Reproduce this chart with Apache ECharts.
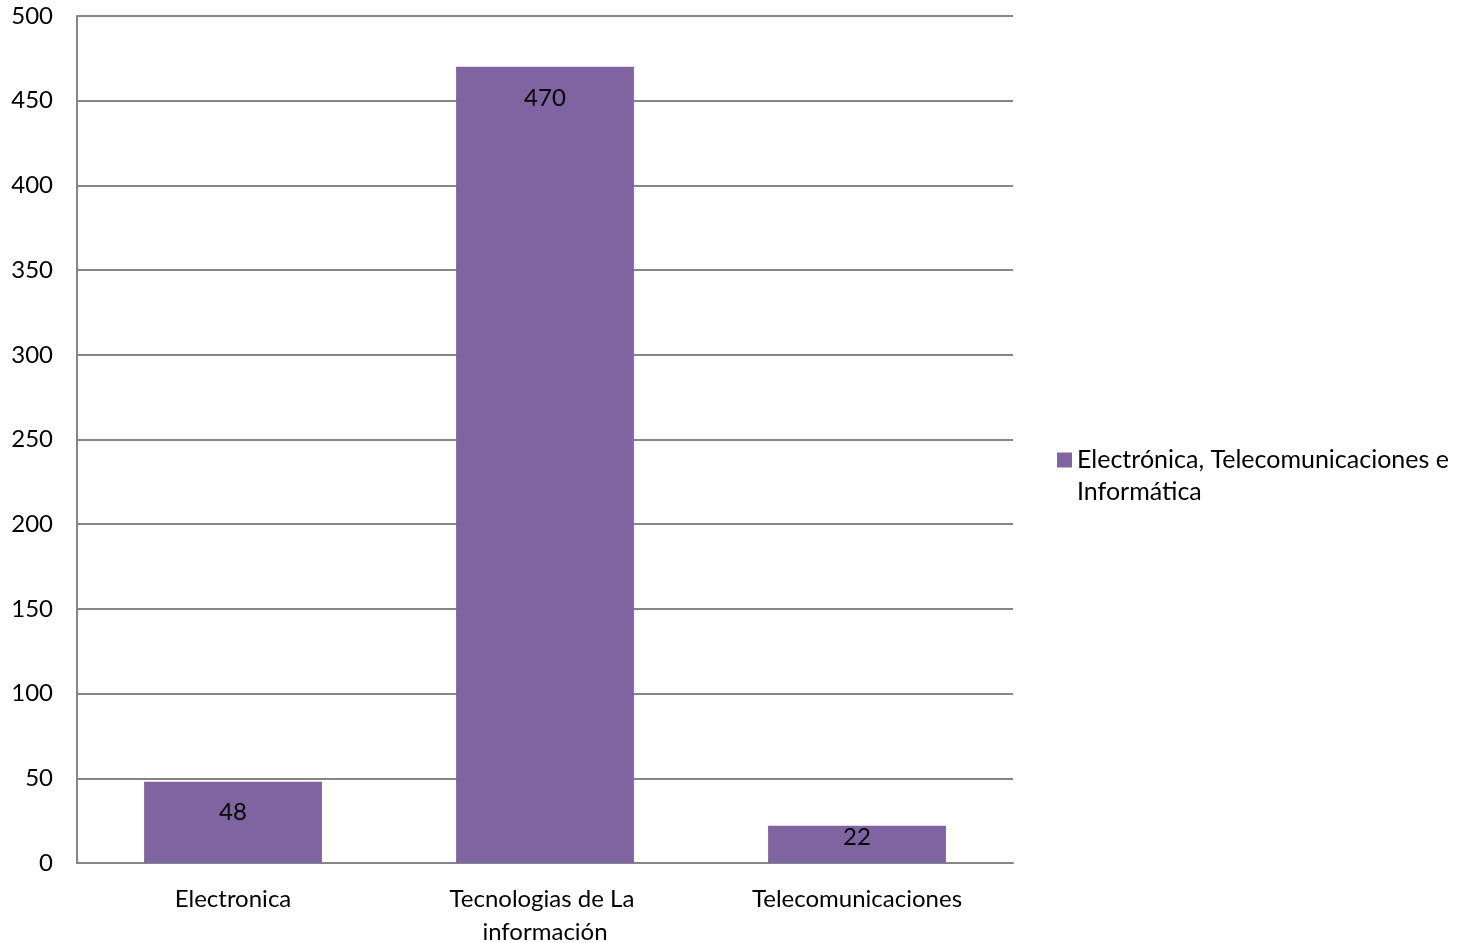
<!DOCTYPE html>
<html>
<head>
<meta charset="utf-8">
<script src="https://cdn.jsdelivr.net/npm/echarts@6/dist/echarts.min.js"></script>
<style>
html,body{margin:0;padding:0;background:#fff;}
#chart{width:1460px;height:943px;}
</style>
</head>
<body>
<div id="chart"></div>
<script>
const categories = ['Electronica', 'Tecnologias de La información', 'Telecomunicaciones'];
const seriesName = 'Electrónica, Telecomunicaciones e Informática';
const values = [48, 470, 22];

const FONT = 'Lato, "Open Sans", sans-serif';
const chart = echarts.init(document.getElementById('chart'));
chart.setOption({
  backgroundColor: '#ffffff',
  animation: false,
  grid: {left: 77, right: 447, top: 16, bottom: 80, containLabel: false, outerBoundsMode: 'none'},
  legend: {
    show: true,
    left: 1052,
    top: 407,
    orient: 'vertical',
    itemWidth: 15,
    itemHeight: 15,
    itemGap: 6,
    icon: 'rect',
    formatter: n => '\n' + n,
    textStyle: {fontFamily: FONT, fontSize: 25, color: '#000', width: 440, overflow: 'break', lineHeight: 32},
    data: [seriesName]
  },
  xAxis: {
    type: 'category',
    data: categories,
    axisLine: {show: true, lineStyle: {color: '#868686', width: 2}},
    axisTick: {show: false},
    axisLabel: {fontFamily: FONT, fontSize: 24, color: '#000', margin: 20, width: 250, overflow: 'break', lineHeight: 33, interval: 0}
  },
  yAxis: {
    type: 'value',
    min: 0, max: 500, interval: 50,
    axisLine: {show: true, lineStyle: {color: '#868686', width: 2}},
    axisTick: {show: false},
    splitLine: {lineStyle: {color: '#868686', width: 2}},
    axisLabel: {fontFamily: FONT, fontSize: 24, color: '#000', margin: 24}
  },
  series: [{
    name: seriesName,
    type: 'bar',
    data: values.map(v => v < 30 ? {value: v, label: {position: 'insideBottom', distance: 14}} : v),
    barWidth: '57%',
    itemStyle: {color: '#8064A2'},
    label: {show: true, position: 'insideTop', distance: 19, fontFamily: FONT, fontSize: 24, color: '#000'}
  }]
});
</script>
</body>
</html>
